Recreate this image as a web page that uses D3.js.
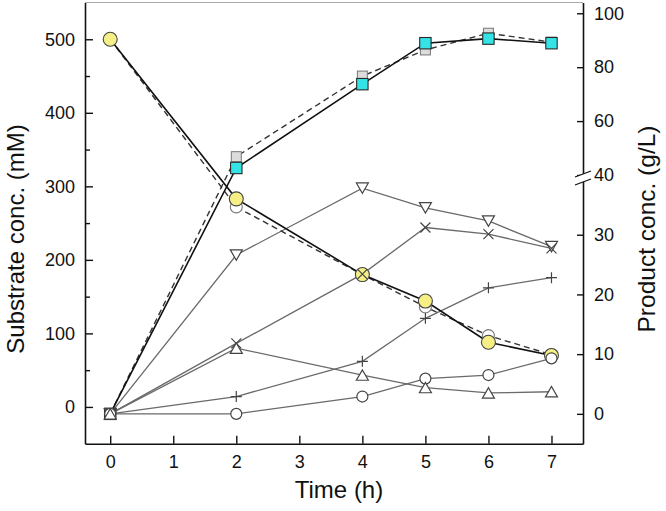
<!DOCTYPE html>
<html>
<head>
<meta charset="utf-8">
<script src="https://cdn.jsdelivr.net/npm/d3@7"></script>
<style>
  html, body { margin: 0; padding: 0; background: #fff; }
  svg { display: block; font-family: "Liberation Sans", Arial, sans-serif; }
</style>
</head>
<body>
<svg id="chart" width="666" height="511"></svg>
<script>
// ---- data ----
const times = [0, 2, 4, 5, 6, 7];
const xTicks = [0, 1, 2, 3, 4, 5, 6, 7];
const leftTicks = [0, 100, 200, 300, 400, 500];
const leftMinorTicks = [50, 150, 250, 350, 450];
const rightTicks = [0, 10, 20, 30, 40, 60, 80, 100];

// substrate (mM, left axis)
const substrateMain = [500, 283, 180, 144, 88, 70];
const substrateRep  = [500, 272, 180, 136, 97, 71];
// main product (g/L, right axis)
const productMain = [0, 42.6, 73.7, 88.9, 90.6, 88.9];
const productRep  = [0, 46.8, 76.7, 86.4, 92.6, 89.3];
// by-products (g/L, right axis)
const byDownTri = [0, 26.6, 37.8, 34.5, 32.3, 28.0];
const byCross   = [0, 11.8, 23.4, 31.2, 30.1, 27.7];
const byPlus    = [0, 2.9, 8.8, 16.0, 21.1, 22.8];
const byCircle  = [0, 0.0, 2.9, 5.9, 6.5, 9.3];
const byUpTri   = [0, 11.0, 6.5, 4.4, 3.5, 3.7];

// ---- layout ----
const svg = d3.select("#chart");
const L = 85, R = 583, T = 2.5, B = 443.7;
const x = d3.scaleLinear().domain([-0.4, 7.5]).range([L, R]);
const yL = d3.scaleLinear().domain([-50, 550]).range([B, T]);
const yR = d3.scaleLinear().domain([-5, 40, 104]).range([B, 175, T]);

const font = '"Liberation Sans", Arial, sans-serif';

// top frame line
svg.append("line").attr("x1", L).attr("x2", R).attr("y1", T).attr("y2", T)
  .attr("stroke", "#aaa").attr("stroke-width", 1);

// ---- series lines ----
const thinColor = "#6a6a6a";
const thinSeries = [
  { v: byDownTri, shape: "down" },
  { v: byCross, shape: "cross" },
  { v: byPlus, shape: "plus" },
  { v: byCircle, shape: "circle" },
  { v: byUpTri, shape: "up" }
];
const lineR = d3.line().x((d, i) => x(times[i])).y(d => yR(d));
const lineL = d3.line().x((d, i) => x(times[i])).y(d => yL(d));

thinSeries.forEach(s => {
  svg.append("path").attr("d", lineR(s.v)).attr("fill", "none")
    .attr("stroke", thinColor).attr("stroke-width", 1.3);
});

svg.append("path").attr("d", lineL(substrateRep)).attr("fill", "none")
  .attr("stroke", "#333").attr("stroke-width", 1.4).attr("stroke-dasharray", "6,4");
svg.append("path").attr("d", lineR(productRep)).attr("fill", "none")
  .attr("stroke", "#333").attr("stroke-width", 1.4).attr("stroke-dasharray", "6,4");
svg.append("path").attr("d", lineL(substrateMain)).attr("fill", "none")
  .attr("stroke", "#111").attr("stroke-width", 1.6);
svg.append("path").attr("d", lineR(productMain)).attr("fill", "none")
  .attr("stroke", "#111").attr("stroke-width", 1.6);

// ---- markers ----
// replicate squares
svg.selectAll(".sqRep").data(productRep).enter().append("rect")
  .attr("x", (d, i) => x(times[i]) - 5).attr("y", d => yR(d) - 5)
  .attr("width", 10).attr("height", 10)
  .attr("fill", "#dcdcdc").attr("stroke", "#777").attr("stroke-width", 1);
// replicate circles
svg.selectAll(".ciRep").data(substrateRep).enter().append("circle")
  .attr("cx", (d, i) => x(times[i])).attr("cy", d => yL(d)).attr("r", 6)
  .attr("fill", "#fff").attr("stroke", "#777").attr("stroke-width", 1.1);
// cyan squares
svg.selectAll(".sqMain").data(productMain).enter().append("rect")
  .attr("x", (d, i) => x(times[i]) - 5.7).attr("y", d => yR(d) - 5.7)
  .attr("width", 11.4).attr("height", 11.4)
  .attr("fill", "#33e3e6").attr("stroke", "#2a2a2a").attr("stroke-width", 1.1);
// yellow circles
svg.selectAll(".ciMain").data(substrateMain).enter().append("circle")
  .attr("cx", (d, i) => x(times[i])).attr("cy", d => yL(d)).attr("r", 7)
  .attr("fill", "#f6ef86").attr("stroke", "#444").attr("stroke-width", 1.1);

function shapePath(shape) {
  const s = 6;
  switch (shape) {
    case "down": return `M${-s},${-5.2}L${s},${-5.2}L0,${5.2}Z`;
    case "up": return `M${-s},${5.2}L${s},${5.2}L0,${-5.2}Z`;
    case "cross": return `M-5,-5L5,5M-5,5L5,-5`;
    case "plus": return `M-5.5,0L5.5,0M0,-5.5L0,5.5`;
    case "circle": return d3.arc()({innerRadius: 0, outerRadius: 5.5, startAngle: 0, endAngle: 2 * Math.PI});
  }
}
thinSeries.forEach(s => {
  svg.selectAll(null).data(s.v).enter().append("path")
    .attr("transform", (d, i) => `translate(${x(times[i])},${yR(d)})`)
    .attr("d", shapePath(s.shape))
    .attr("fill", (s.shape === "cross" || s.shape === "plus") ? "none" : "#fff")
    .attr("stroke", "#444").attr("stroke-width", 1.2);
});

// ---- axes ----
function styleAxis(g) {
  g.select(".domain").attr("stroke", "#111").attr("stroke-width", 1.6);
  g.selectAll(".tick line").attr("stroke", "#111").attr("stroke-width", 1.4);
  g.selectAll(".tick text").attr("fill", "#111").style("font-family", font).style("font-size", "18px");
}

const gx = svg.append("g").attr("transform", `translate(0,${B})`)
  .call(d3.axisBottom(x).tickValues(xTicks).tickFormat(d3.format("d"))
    .tickSize(-8).tickSizeOuter(0).tickPadding(12));
styleAxis(gx);

const gl = svg.append("g").attr("transform", `translate(${L},0)`)
  .call(d3.axisLeft(yL).tickValues(leftTicks).tickFormat(d3.format("d"))
    .tickSize(-8).tickSizeOuter(0).tickPadding(10));
styleAxis(gl);
const glm = svg.append("g").attr("transform", `translate(${L},0)`)
  .call(d3.axisLeft(yL).tickValues(leftMinorTicks).tickFormat("")
    .tickSize(-5).tickSizeOuter(0));
glm.select(".domain").remove();
glm.selectAll(".tick line").attr("stroke", "#111").attr("stroke-width", 1.4);

const gr = svg.append("g").attr("transform", `translate(${R},0)`)
  .call(d3.axisRight(yR).tickValues(rightTicks).tickFormat(d3.format("d"))
    .tickSize(-6).tickSizeOuter(0).tickPadding(11));
styleAxis(gr);

// axis break on right axis
const by = yR(40) + 3;
svg.append("path")
  .attr("d", `M${R - 8},${by - 1}L${R + 8},${by - 7}L${R + 8},${by + 1}L${R - 8},${by + 7}Z`)
  .attr("fill", "#fff").attr("stroke", "none");
svg.append("path")
  .attr("d", `M${R - 8},${by - 1}L${R + 8},${by - 7}M${R - 8},${by + 7}L${R + 8},${by + 1}`)
  .attr("stroke", "#111").attr("stroke-width", 1.3);

// ---- titles ----
svg.append("text").attr("transform", "translate(24,239) rotate(-90)")
  .attr("text-anchor", "middle").style("font-family", font).style("font-size", "24px")
  .attr("fill", "#111").text("Substrate conc. (mM)");
svg.append("text").attr("transform", "translate(655,229) rotate(-90)")
  .attr("text-anchor", "middle").style("font-family", font).style("font-size", "24.5px")
  .attr("fill", "#111").text("Product conc. (g/L)");
svg.append("text").attr("x", 339).attr("y", 498)
  .attr("text-anchor", "middle").style("font-family", font).style("font-size", "24px")
  .attr("fill", "#111").text("Time (h)");
</script>
</body>
</html>
